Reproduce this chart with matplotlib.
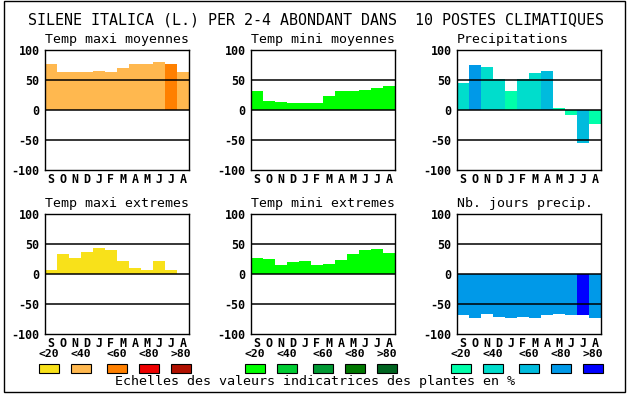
import matplotlib
matplotlib.use('Agg')
import matplotlib.pyplot as plt
from matplotlib.patches import Rectangle

W, H = 630, 394

months = ['S', 'O', 'N', 'D', 'J', 'F', 'M', 'A', 'M', 'J', 'J', 'A']
classes = ['<20', '<40', '<60', '<80', '>80']

warm = ['#F8E11A', '#FFB84F', '#FF8000', '#EE0000', '#B01000']
green = ['#00FF00', '#00CC33', '#009933', '#007800', '#006420']
blue = ['#00FFAA', '#00DDCC', '#00BBDD', '#0099E8', '#0000FF']

titles = ['Temp maxi moyennes', 'Temp mini moyennes', 'Precipitations',
          'Temp maxi extremes', 'Temp mini extremes', 'Nb. jours precip.']

tmax_moy = [77, 63, 63, 63, 65, 63, 70, 77, 77, 80, 77, 63]
tmax_moy_cls = [1, 1, 1, 1, 1, 1, 1, 1, 1, 1, 2, 1]

tmin_moy = [32, 15, 13, 12, 12, 12, 23, 32, 32, 33, 37, 40]
tmin_moy_cls = [0] * 12

precip = [45, 75, 72, 52, 32, 52, 62, 65, 3, -8, -55, -23]
precip_cls = [1, 3, 1, 1, 0, 1, 1, 2, 0, 0, 2, 0]

tmax_ext = [7, 33, 27, 37, 43, 40, 22, 10, 7, 22, 7, 0]
tmax_ext_cls = [0] * 12

tmin_ext = [27, 25, 15, 20, 22, 15, 17, 23, 33, 40, 42, 35]
tmin_ext_cls = [0] * 12

jours = [-68, -73, -67, -72, -73, -72, -73, -68, -67, -68, -68, -73]
jours_cls = [3, 3, 3, 3, 3, 3, 3, 3, 3, 3, 4, 3]

series = [(tmax_moy, tmax_moy_cls, warm), (tmin_moy, tmin_moy_cls, green),
          (precip, precip_cls, blue), (tmax_ext, tmax_ext_cls, warm),
          (tmin_ext, tmin_ext_cls, green), (jours, jours_cls, blue)]

lefts = [45, 251, 457]
tops = [50, 214]
aw, ah = 144, 120

mono = 'DejaVu Sans Mono'

fig = plt.figure(figsize=(W / 100, H / 100), dpi=100)

# outer frame
fig.add_artist(Rectangle((4 / W, 1 - 392 / H), 621 / W, 391 / H,
                         transform=fig.transFigure, fill=False,
                         edgecolor='black', linewidth=1))

fig.text(316 / W, 1 - 20 / H,
         'SILENE ITALICA (L.) PER 2-4 ABONDANT DANS  10 POSTES CLIMATIQUES',
         ha='center', va='center', family=mono, fontsize=10.8)

for i, (vals, cls, pal) in enumerate(series):
    x0 = lefts[i % 3]
    y0 = tops[i // 3]
    ax = fig.add_axes([x0 / W, 1 - (y0 + ah) / H, aw / W, ah / H])
    cols = [pal[c] for c in cls]
    ax.bar(range(12), vals, width=1.0, align='edge', color=cols, linewidth=0)
    for yv in (-50, 0, 50):
        ax.axhline(yv, color='black', linewidth=1.1)
    ax.set_xlim(0, 12)
    ax.set_ylim(-100, 100)
    ax.set_yticks([-100, -50, 0, 50, 100])
    ax.set_yticklabels(['-100', '-50', '0', '50', '100'],
                       family=mono, weight='bold', fontsize=8.4)
    ax.set_xticks([m + 0.5 for m in range(12)])
    ax.set_xticklabels(months, family=mono, weight='bold', fontsize=8.4)
    ax.tick_params(length=0, pad=2)
    ax.tick_params(axis='y', pad=4)
    for s in ax.spines.values():
        s.set_linewidth(1)
    fig.text(x0 / W, 1 - (y0 - 7) / H, titles[i], ha='left', va='baseline',
             family=mono, fontsize=9.5)

# legend of colour classes
offs = [0, 32, 68, 100, 132]
for g, pal in enumerate([warm, green, blue]):
    gx = lefts[g] - 6
    for k in range(5):
        fig.text((gx + offs[k] + 10) / W, 1 - 354 / H, classes[k],
                 ha='center', va='center', family=mono, weight='bold',
                 fontsize=8.2)
        fig.add_artist(Rectangle(((gx + offs[k]) / W, 1 - 373 / H), 20 / W, 9 / H,
                                 transform=fig.transFigure, facecolor=pal[k],
                                 edgecolor='black', linewidth=0.8))

fig.text(315 / W, 1 - 381 / H, 'Echelles des valeurs indicatrices des plantes en %',
         ha='center', va='center', family=mono, fontsize=9.6)

fig.savefig('out.png', dpi=100)
